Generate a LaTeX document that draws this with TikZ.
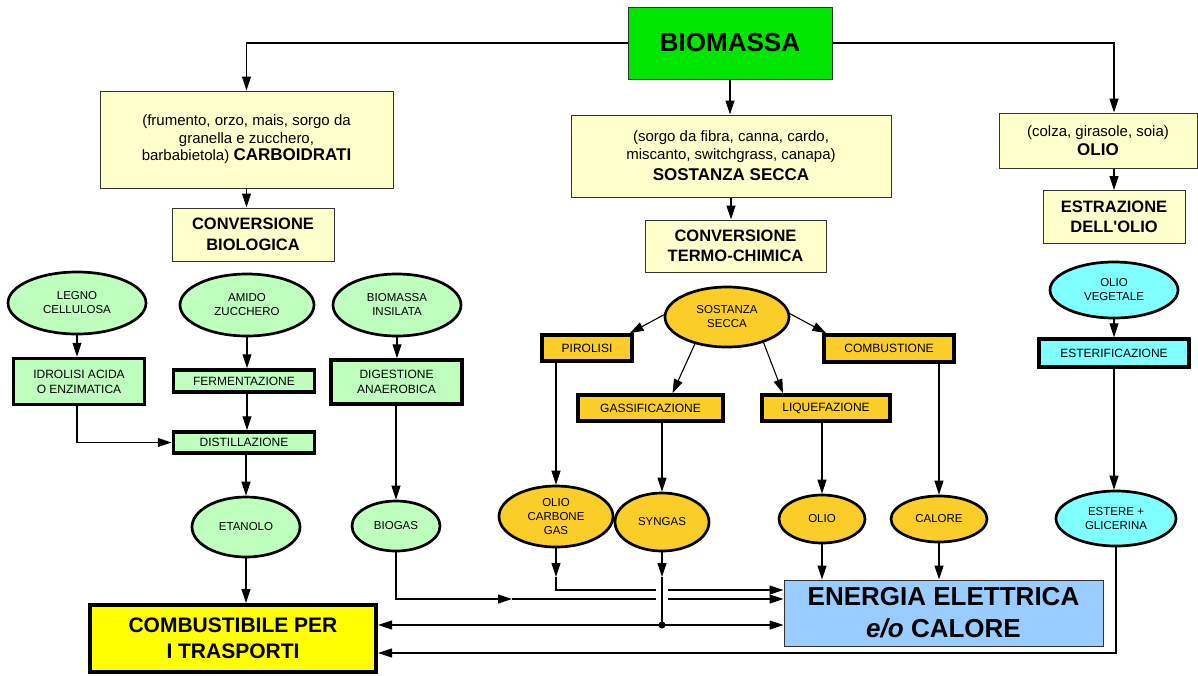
\documentclass[tikz,border=0pt]{standalone}
\usepackage{fontspec}
\setmainfont{Liberation Sans}
\usetikzlibrary{arrows.meta,shapes.geometric,calc}
\definecolor{lightyel}{RGB}{255,255,204}
\definecolor{biogreen}{RGB}{0,230,0}
\definecolor{palegreen}{RGB}{190,255,190}
\definecolor{goldfill}{RGB}{250,205,40}
\definecolor{cyanl}{RGB}{128,255,255}
\definecolor{lblue}{RGB}{153,204,255}
\definecolor{yel}{RGB}{255,255,0}
\begin{document}
\begin{tikzpicture}[x=1pt,y=-1pt,
  every node/.style={inner sep=0pt, align=center, text=black},
  wh/.style 2 args={minimum width=#1pt, minimum height=#2pt},
  conn/.style={line width=1.1pt, draw=black},
  arr/.style={conn, -{Triangle[length=14pt,width=9pt]}},
  sbox/.style={rectangle, draw=black!80, line width=1pt, fill=lightyel},
  ell/.style={ellipse, draw=black, line width=2.7pt, font=\fontsize{11.5}{14}\selectfont},
  pbox/.style={rectangle, draw=black, line width=3.5pt, font=\fontsize{12}{15}\selectfont},
  paren/.style={font=\fontsize{15}{17.5}\selectfont},
  hd/.style={font=\bfseries\fontsize{16.5}{20.5}\selectfont}
]
\useasboundingbox (0,0) rectangle (1198,675);
\fill[white] (0,0) rectangle (1198,675);

% top level
\node[sbox, fill=biogreen, wh={204}{72}, font=\bfseries\fontsize{26}{30}\selectfont] (bio) at (730,43) {BIOMASSA};
\node[sbox, wh={293}{97}, paren] (carb) at (246.5,139.5) {(frumento, orzo, mais, sorgo da\\granella e zucchero,\\barbabietola) {\bfseries\fontsize{17}{17.5}\selectfont CARBOIDRATI}};
\node[sbox, wh={162}{53}, hd] (convbio) at (253,234.5) {CONVERSIONE\\BIOLOGICA};
\node[sbox, wh={320}{82}, paren] (sosbox) at (731,156) {(sorgo da fibra, canna, cardo,\\miscanto, switchgrass, canapa)\\[4pt]{\bfseries\fontsize{17}{20}\selectfont SOSTANZA SECCA}};
\node[sbox, wh={181}{52}, hd] (convterm) at (735.5,246) {CONVERSIONE\\TERMO-CHIMICA};
\node[sbox, wh={198}{55}, paren] (oliobox) at (1098,140.5) {(colza, girasole, soia)\\[2pt]{\bfseries\fontsize{17}{20}\selectfont OLIO}};
\node[sbox, wh={142}{53}, hd] (estr) at (1114,217) {ESTRAZIONE\\DELL\textquotesingle OLIO};

% biological branch
\node[ell, fill=palegreen, wh={138}{62}] (legno) at (77,303) {LEGNO\\CELLULOSA};
\node[ell, fill=palegreen, wh={134}{62}] (amido) at (247,305) {AMIDO\\ZUCCHERO};
\node[ell, fill=palegreen, wh={128}{62}] (insil) at (397,305) {BIOMASSA\\INSILATA};
\node[pbox, fill=palegreen, wh={131}{46}] (idro) at (79,381.5) {IDROLISI ACIDA\\O ENZIMATICA};
\node[pbox, fill=palegreen, wh={141}{22}] (ferm) at (244,381) {FERMENTAZIONE};
\node[pbox, fill=palegreen, wh={141}{21}] (dist) at (244,442.5) {DISTILLAZIONE};
\node[pbox, fill=palegreen, wh={131}{44}] (dig) at (396.5,382) {DIGESTIONE\\ANAEROBICA};
\node[ell, fill=palegreen, wh={108}{60}] (etan) at (246,527) {ETANOLO};
\node[ell, fill=palegreen, wh={88}{50}] (biogas) at (396,526) {BIOGAS};
\node[pbox, fill=yel, line width=4pt, wh={286}{67}, font=\bfseries\fontsize{21}{26}\selectfont] (comb) at (233,638.5) {COMBUSTIBILE PER\\I TRASPORTI};

% thermo-chemical branch
\node[ell, fill=goldfill, wh={124}{60}] (ss) at (727,317) {SOSTANZA\\SECCA};
\node[pbox, fill=goldfill, wh={90}{26}] (pir) at (587,348) {PIROLISI};
\node[pbox, fill=goldfill, wh={145}{26}] (gas) at (650.5,408) {GASSIFICAZIONE};
\node[pbox, fill=goldfill, wh={128}{26}] (liq) at (826,408) {LIQUEFAZIONE};
\node[pbox, fill=goldfill, wh={130}{27}] (combu) at (889,348.5) {COMBUSTIONE};
\node[ell, fill=goldfill, wh={114}{61}] (ocg) at (556,516.5) {OLIO\\CARBONE\\GAS};
\node[ell, fill=goldfill, wh={94}{58}] (syn) at (662,522) {SYNGAS};
\node[ell, fill=goldfill, wh={86}{48}] (olio) at (822,519) {OLIO};
\node[ell, fill=goldfill, wh={96}{46}] (cal) at (939,519) {CALORE};
\node[sbox, fill=lblue, wh={319}{66}, font=\bfseries\fontsize{26}{32}\selectfont] (ener) at (943.5,613) {ENERGIA ELETTRICA\\\textit{e/o} CALORE};

% oil branch
\node[ell, fill=cyanl, wh={128}{56}] (oliov) at (1114,290) {OLIO\\VEGETALE};
\node[pbox, fill=cyanl, wh={150}{28}] (ester) at (1114,353) {ESTERIFICAZIONE};
\node[ell, fill=cyanl, wh={120}{55}] (glic) at (1116,518.5) {ESTERE +\\GLICERINA};

% helper coordinates
\coordinate (tipY) at (0,577);
\coordinate (rowA) at (0,590);
\coordinate (rowB) at (0,599);
\coordinate (rowC) at (0,625);
\coordinate (rowD) at (0,653);
\coordinate (gapL) at (656,0);
\coordinate (gapR) at (668,0);
\coordinate (bgmid) at (512,0);

% top connectors
\draw[arr] (bio.west) -| (carb.north);
\draw[arr] (bio.south) -- (bio.south |- sosbox.north);
\draw[arr] (bio.east) -| (estr.north |- oliobox.north);
\draw[arr] (carb.south) -- (carb.south |- convbio.north);
\draw[arr] (sosbox.south) -- (sosbox.south |- convterm.north);
\draw[arr] (estr.north |- oliobox.south) -- (estr.north);

% biological connectors
\draw[arr] (legno.south) -- (legno.south |- idro.north);
\draw[arr] (amido.south) -- (amido.south |- ferm.north);
\draw[arr] (insil.south) -- (insil.south |- dig.north);
\draw[arr] (amido.south |- ferm.south) -- (amido.south |- dist.north);
\draw[arr] (legno.south |- idro.south) |- (dist.west);
\draw[arr] (etan.north |- dist.south) -- (etan.north);
\draw[arr] (biogas.north |- dig.south) -- (biogas.north);
\draw[arr] (etan.south) -- (etan.south |- comb.north);

% thermo-chemical connectors
\draw[arr] (ss.178) -- ([xshift=-4pt]pir.north east);
\draw[arr] (ss.220) -- ([xshift=22pt]gas.north);
\draw[arr] (ss.325) -- ([xshift=-43pt]liq.north);
\draw[arr] (ss.3) -- ([xshift=4pt]combu.north west);
\draw[arr] (ocg.north |- pir.south) -- (ocg.north);
\draw[arr] (syn.north |- gas.south) -- (syn.north);
\draw[arr] (olio.north |- liq.south) -- (olio.north);
\draw[arr] (cal.north |- combu.south) -- (cal.north);

% bottom connectors
\draw[arr] (biogas.south) |- (bgmid |- rowB);
\draw[conn] (bgmid |- rowB) -- (gapL |- rowB);
\draw[arr] (gapR |- rowB) -- (ener.west |- rowB);
\draw[arr] (ocg.south) -- (ocg.south |- tipY);
\draw[conn] (ocg.south |- tipY) |- (gapL |- rowA);
\draw[arr] (gapR |- rowA) -- (ener.west |- rowA);
\draw[arr] (syn.south) -- (syn.south |- tipY);
\draw[conn] (syn.south |- tipY) -- (syn.south |- rowC) coordinate (dot);
\fill (dot) circle (3.5pt);
\draw[arr] (dot) -- (comb.east |- rowC);
\draw[arr] (dot) -- (ener.west |- rowC);
\draw[arr] (olio.south) -- (olio.south |- ener.north);
\draw[arr] (cal.south) -- (cal.south |- ener.north);

% oil connectors
\draw[arr] (oliov.south) -- (oliov.south |- ester.north);
\draw[arr] (ester.south) -- (ester.south |- glic.north);
\draw[arr] (glic.south) |- (comb.east |- rowD);
\end{tikzpicture}
\end{document}
